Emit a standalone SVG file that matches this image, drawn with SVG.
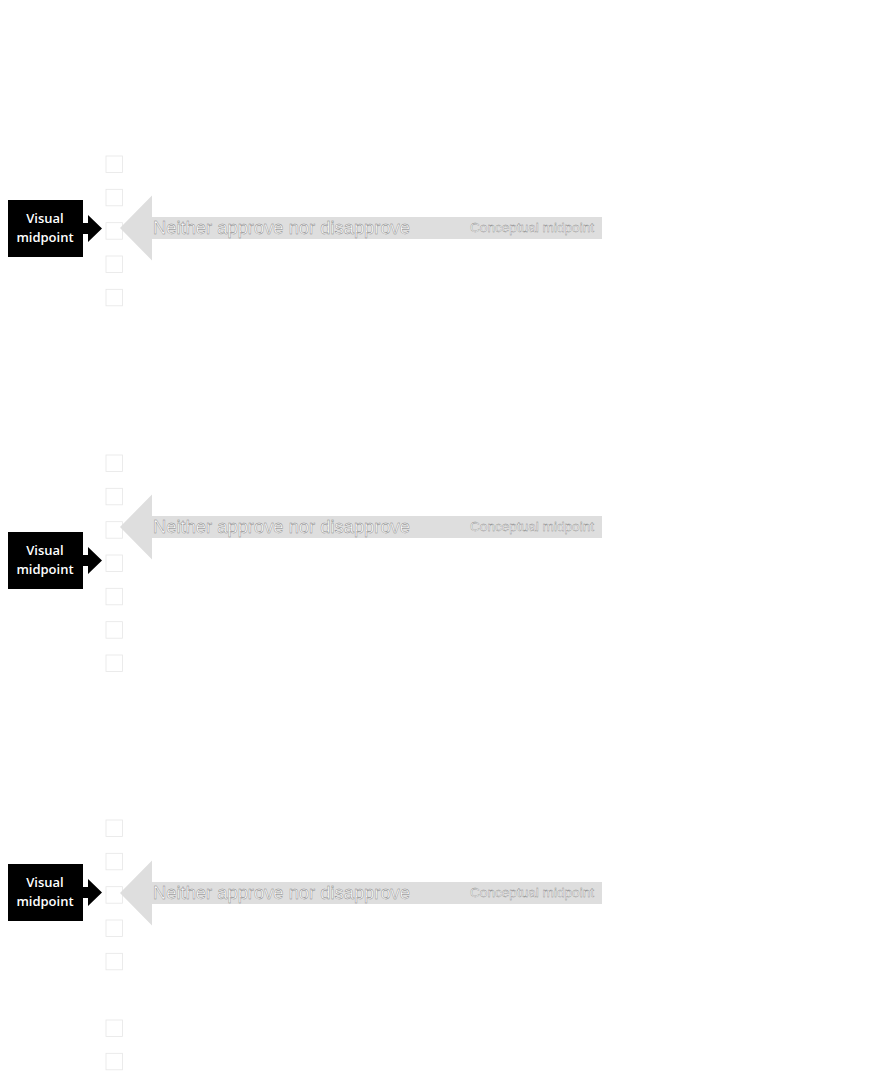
<svg xmlns="http://www.w3.org/2000/svg" width="872" height="1079" viewBox="0 0 872 1079">
<style>
.bg{fill:#ffffff}
.cb{fill:#ffffff;stroke:#e6e6e6;stroke-width:0.8}
.vbox{fill:#000000}
.vtxt{fill:#ffffff;font-family:"Open Sans","Liberation Sans",sans-serif;font-weight:600;font-size:13px;text-anchor:middle}
.garrow{fill:#dedede}
.main{fill:#ffffff;stroke:#808080;stroke-width:0.42;font-family:"Liberation Sans",Arial,sans-serif;font-size:18.5px}
.concept{fill:#ffffff;stroke:#858585;stroke-width:0.33;font-family:"Liberation Sans",Arial,sans-serif;font-size:12px}
.barrow{fill:#000000}
</style>
<defs>
<g id="checkbox"><rect class="cb" x="0" y="0" width="16.5" height="16.5"/></g>
<g id="grayArrow">
<polygon class="garrow" points="120,0 152,-32.5 152,-11 602,-11 602,11 152,11 152,32.5"/>
<text class="main" x="153" y="5.5" textLength="257" lengthAdjust="spacingAndGlyphs">Neither approve nor disapprove</text>
<text class="concept" x="470" y="4" textLength="124" lengthAdjust="spacingAndGlyphs">Conceptual midpoint</text>
</g>
<g id="visualBox">
<rect class="vbox" x="8" y="0" width="75" height="57"/>
<text class="vtxt" x="45" y="22.5">Visual</text>
<text class="vtxt" x="45" y="41.5">midpoint</text>
</g>
<g id="blackArrow">
<polygon class="barrow" points="83,-5.5 88,-5.5 88,-13.5 102,0 88,13.5 88,5.5 83,5.5"/>
</g>
</defs>
<rect class="bg" x="0" y="0" width="872" height="1079"/>

<g id="block1-checkboxes">
<use href="#checkbox" x="106" y="156"/>
<use href="#checkbox" x="106" y="189.3"/>
<use href="#checkbox" x="106" y="222.7"/>
<use href="#checkbox" x="106" y="256"/>
<use href="#checkbox" x="106" y="289.3"/>
</g>
<g id="block1-conceptual"><use href="#grayArrow" x="0" y="228"/></g>
<g id="block1-visual"><use href="#visualBox" x="0" y="200"/></g>

<g id="block2-checkboxes">
<use href="#checkbox" x="106" y="455"/>
<use href="#checkbox" x="106" y="488.3"/>
<use href="#checkbox" x="106" y="521.7"/>
<use href="#checkbox" x="106" y="555"/>
<use href="#checkbox" x="106" y="588.3"/>
<use href="#checkbox" x="106" y="621.7"/>
<use href="#checkbox" x="106" y="655"/>
</g>
<g id="block2-conceptual"><use href="#grayArrow" x="0" y="527"/></g>
<g id="block2-visual"><use href="#visualBox" x="0" y="532"/></g>

<g id="block3-checkboxes">
<use href="#checkbox" x="106" y="820"/>
<use href="#checkbox" x="106" y="853.3"/>
<use href="#checkbox" x="106" y="886.7"/>
<use href="#checkbox" x="106" y="920"/>
<use href="#checkbox" x="106" y="953.3"/>
<use href="#checkbox" x="106" y="1020"/>
<use href="#checkbox" x="106" y="1053.3"/>
</g>
<g id="block3-conceptual"><use href="#grayArrow" x="0" y="893"/></g>
<g id="block3-visual"><use href="#visualBox" x="0" y="864"/></g>

<g id="connectors">
<use href="#blackArrow" x="0" y="228.5"/>
<use href="#blackArrow" x="0" y="560.5"/>
<use href="#blackArrow" x="0" y="892.5"/>
</g>
</svg>
